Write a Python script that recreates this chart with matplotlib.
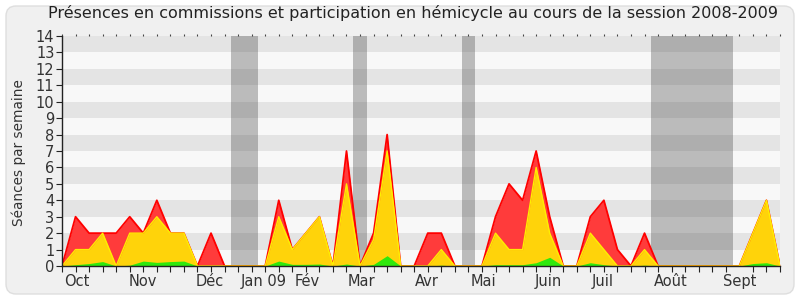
import numpy as np
import matplotlib
matplotlib.use("Agg")
import matplotlib.pyplot as plt
from matplotlib.patches import FancyBboxPatch

# weekly values, session 2008-2009 (54 weeks)
semaines = np.arange(54)
presences = [0, 3, 2, 2, 2, 3, 2, 4, 2, 2, 0, 2, 0,
             0, 0,
             0, 4, 1, 2, 3, 0, 7, 0, 2, 8, 0, 0, 2, 2, 0,
             0, 0, 3, 5, 4, 7, 3, 0, 0, 3, 4, 1, 0, 2, 0,
             0, 0, 0, 0, 0, 0, 2, 4, 0]
participation = [0, 1, 1, 2, 0, 2, 2, 3, 2, 2, 0, 0, 0,
                 0, 0,
                 0, 3, 1, 2, 3, 0, 5, 0, 1.6, 7, 0, 0, 0, 1, 0,
                 0, 0, 2, 1, 1, 6, 2, 0, 0, 2, 1, 0, 0, 1, 0,
                 0, 0, 0, 0, 0, 0, 2, 4, 0]
hemicycle = [0, 0.08, 0.15, 0.27, 0, 0.05, 0.3, 0.22, 0.27, 0.3, 0, 0, 0,
             0, 0,
             0, 0.3, 0.1, 0.1, 0.12, 0, 0.12, 0, 0.1, 0.63, 0, 0, 0, 0.05, 0,
             0, 0, 0.08, 0.08, 0.08, 0.2, 0.53, 0, 0, 0.2, 0.08, 0, 0, 0.05, 0,
             0, 0, 0, 0, 0, 0, 0.15, 0.2, 0]
vacances = [(12.5, 14.5), (21.5, 22.5), (29.5, 30.5), (43.5, 49.5)]
mois = ["Oct", "Nov", "Déc", "Jan 09", "Fév", "Mar", "Avr", "Mai", "Juin", "Juil", "Août", "Sept"]
mois_pos = [1.1, 5.95, 10.9, 14.9, 18.1, 22.1, 26.9, 31.1, 35.9, 39.9, 44.95, 50.0]

plt.rcParams['font.family'] = ['DejaVu Sans']

fig = plt.figure(figsize=(8, 3), dpi=100, facecolor="white")
cadre = FancyBboxPatch((0.06, 0.06), 7.88, 2.88, boxstyle="round,pad=0,rounding_size=0.1",
                       transform=fig.dpi_scale_trans, facecolor="#f0f0f0",
                       edgecolor="#dedede", linewidth=1.0, zorder=-10)
fig.add_artist(cadre)

ax = fig.add_axes([0.0775, 0.1133, 0.8975, 0.7667])
ax.set_facecolor("#f8f8f8")

# horizontal stripes
for k in range(1, 14, 2):
    ax.axhspan(k, k + 1, color="#e4e4e4", lw=0, zorder=0)
for a, b in vacances:
    ax.axvspan(a, b, color="#3d3d3d", alpha=0.32, lw=0, zorder=1)

ax.fill_between(semaines, presences, color="#ff3b3b", lw=0, zorder=2)
ax.plot(semaines, presences, color="#ff0000", lw=1.3, zorder=3)
ax.fill_between(semaines, participation, color="#ffd30a", lw=0, zorder=4)
ax.plot(semaines, participation, color="#ffee00", lw=1.0, zorder=5)
ax.fill_between(semaines, hemicycle, color="#2fe80c", lw=0, zorder=6)

ax.set_xlim(0, 53)
ax.set_ylim(0, 14)
ax.set_yticks(range(15))
ax.set_xticks(mois_pos)
ax.set_xticklabels(mois)
ax.set_xticks(semaines, minor=True)
ax.tick_params(axis='x', which='major', length=0, pad=6, labelsize=10.5, colors="#333333")
ax.tick_params(axis='x', which='minor', length=4, width=0.8, direction='out')
ax.tick_params(axis='y', length=4, width=0.8, pad=1.5, labelsize=10.5, colors="#333333")
ax.tick_params(axis='both', which='both', color="#222222")

top = ax.secondary_xaxis('top')
top.set_xticks(semaines)
top.tick_params(length=1.5, width=0.8, labeltop=False, color="#444444")
top.spines['top'].set_visible(False)

for s in ["top", "right"]:
    ax.spines[s].set_visible(False)
for s in ["left", "bottom"]:
    ax.spines[s].set_color("#222222")
    ax.spines[s].set_linewidth(1.0)
    ax.spines[s].set_zorder(10)

fig.text(0.516, 0.957, "Présences en commissions et participation en hémicycle au cours de la session 2008-2009",
         ha="center", va="center", fontsize=11.5, color="#222222")
fig.text(0.023, 0.49, "Séances par semaine", rotation=90, ha="center", va="center",
         fontsize=9.8, color="#333333")

fig.savefig("out.png", dpi=100, facecolor="white")
